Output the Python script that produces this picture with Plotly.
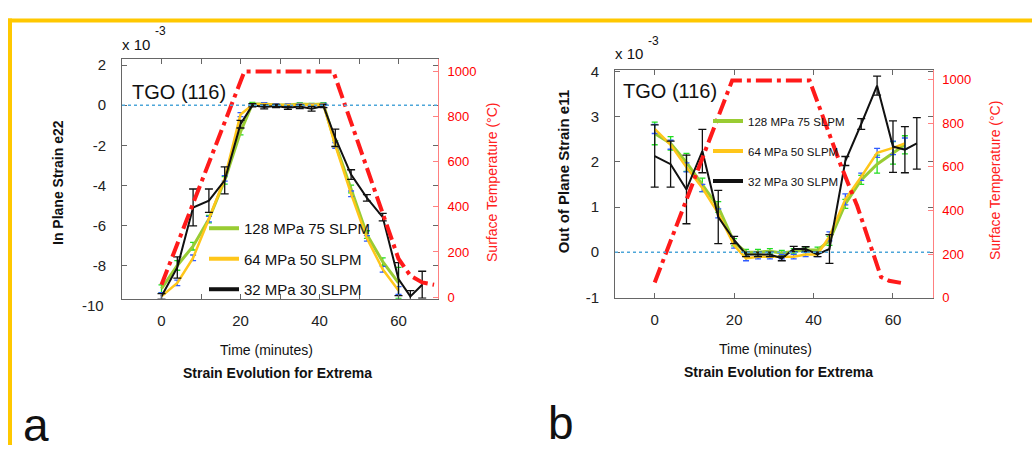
import plotly.graph_objects as go

# ---------------- data ----------------
# Panel a: In-plane strain e22 (x 1e-3)
t_a_black = [0, 4, 8, 12, 16, 20, 23, 26, 29, 32, 35, 38, 41, 44, 48, 52, 56, 60, 63, 66]
e22_black = [-9.53, -8.09, -5.1, -4.76, -3.75, -0.95, -0.01, -0.09, -0.04, -0.13, -0.07, -0.18, -0.04,
             -1.63, -3.46, -4.62, -5.58, -8.67, -9.53, -8.95]
e22_black_err = [0.14, 0.53, 0.92, 0.58, 0.67, 0.19, 0.08, 0.1, 0.08, 0.08, 0.1, 0.12, 0.08,
                 0.43, 0.24, 0.16, 0.19, 0.82, 0.29, 0.67]

t_a_col = [0, 4, 8, 12, 16, 20, 23, 26, 29, 32, 35, 38, 41, 44, 48, 52, 56, 60]
e22_green = [-9.15, -7.99, -7.03, -5.68, -3.75, -1.34, 0.06, 0.06, 0.01, 0.01, 0.06, 0.03, 0.06,
             -1.92, -4.18, -6.45, -7.8, -8.86]
e22_green_err = [0.19, 0.24, 0.19, 0.19, 0.19, 0.14, 0.08, 0.06, 0.06, 0.06, 0.06, 0.06, 0.06,
                 0.14, 0.19, 0.19, 0.19, 0.77]
e22_yellow = [-9.53, -8.86, -7.61, -5.68, -3.65, -0.47, 0.01, 0.06, 0.01, 0.01, 0.03, 0.01, 0.03,
              -2.01, -4.42, -6.64, -8.18, -9.24]
e22_yellow_err = [0.19, 0.14, 0.14, 0.14, 0.14, 0.1, 0.06, 0.06, 0.06, 0.06, 0.06, 0.06, 0.06,
                  0.14, 0.14, 0.14, 0.14, 0.19]

t_temp_a = [0, 21, 43.5, 56, 60, 63, 66, 69]
temp_a = [55, 1000, 1000, 370, 170, 95, 65, 55]

# Panel b: Out-of-plane strain e11 (x 1e-3)
t_b_black = [0, 4, 8, 12, 16, 20, 23, 26, 29, 32, 35, 38, 41, 44, 48, 52, 56, 60, 63, 66]
e11_black = [2.13, 1.95, 1.39, 2.24, 0.78, 0.27, -0.05, -0.05, -0.05, -0.14, 0.07, 0.07, -0.05,
             0.07, 2.02, 2.84, 3.69, 2.34, 2.27, 2.41]
e11_black_err = [0.69, 0.51, 0.76, 0.48, 0.59, 0.08, 0.05, 0.05, 0.05, 0.05, 0.06, 0.05, 0.05,
                 0.32, 0.1, 0.12, 0.21, 0.57, 0.51, 0.57]

t_b_col = [0, 4, 8, 12, 16, 20, 23, 26, 29, 32, 35, 38, 41, 44, 48, 52, 56, 60, 63]
e11_green = [2.63, 2.41, 1.99, 1.49, 1.0, 0.22, 0.0, 0.0, 0.02, -0.02, 0.02, 0.05, 0.05,
             0.25, 1.07, 1.6, 1.95, 2.2, 2.38]
e11_green_err = [0.25, 0.15, 0.2, 0.15, 0.12, 0.08, 0.06, 0.06, 0.06, 0.06, 0.06, 0.06, 0.06,
                 0.1, 0.1, 0.1, 0.2, 0.25, 0.2]
e11_yellow = [2.73, 2.38, 1.88, 1.42, 0.86, 0.15, -0.14, -0.1, -0.1, -0.1, -0.1, -0.05, -0.05,
              0.35, 1.17, 1.67, 2.2, 2.31, 2.41]
e11_yellow_err = [0.1, 0.1, 0.1, 0.08, 0.1, 0.06, 0.05, 0.05, 0.05, 0.05, 0.05, 0.05, 0.05,
                  0.1, 0.12, 0.08, 0.1, 0.15, 0.12]

t_temp_b = [0, 19.5, 39, 47, 51, 55, 57, 59, 62]
temp_b = [70, 995, 995, 600, 420, 210, 95, 78, 68]

series_names = ["128 MPa 75 SLPM", "64 MPa 50 SLPM", "32 MPa 30 SLPM"]
x_ticks_a = [0, 20, 40, 60]
x_minor_a = [10, 30, 50]
x_ticks_b = [0, 20, 40, 60]
y_ticks_a = [-8, -6, -4, -2, 0, 2]
y_extra_label_a = "-10"
y_ticks_b = [-1, 0, 1, 2, 3, 4]
temp_ticks = [0, 200, 400, 600, 800, 1000]

# ---------------- style ----------------
FONT = "Liberation Sans, Arial, sans-serif"
GREEN = "#99CC33"
YELLOW = "#FFC61A"
BLACK = "#111111"
RED = "#FF1A1A"
ERR_GREEN = "#22DD22"
ERR_BLUE = "#2E5BFF"
AXIS_GRAY = "#666666"
RED_AXIS = "#FF8080"
W, H = 1032, 453


def px_x(p):
    return p / W


def px_y(p):
    return 1 - p / H


fig = go.Figure()


def add_panel(xa, ya, yt, t_col, g, g_err, yel, yel_err, t_blk, blk, blk_err, t_tmp, tmp, legend):
    specs = [
        (t_col, g, g_err, GREEN, 3, ERR_GREEN, 3, series_names[0], "g"),
        (t_col, yel, yel_err, YELLOW, 2.5, ERR_BLUE, 3, series_names[1], "y"),
        (t_blk, blk, blk_err, BLACK, 2, BLACK, 4, series_names[2], "b"),
    ]
    for tt, vals, errs, col, lw, ecol, capw, name, key in specs:
        fig.add_trace(go.Scatter(x=tt, y=vals, mode="lines", name=name, showlegend=False,
                                 line=dict(color=col, width=lw),
                                 error_y=dict(type="data", array=errs, color=ecol,
                                              thickness=1.3, width=capw),
                                 xaxis=xa, yaxis=ya, legendgroup=legend + key))
    # legend entries (thicker sample lines, as in the original legend)
    for col, name, key in [(GREEN, series_names[0], "g"), (YELLOW, series_names[1], "y"),
                           (BLACK, series_names[2], "b")]:
        fig.add_trace(go.Scatter(x=[None], y=[None], mode="lines", name=name,
                                 line=dict(color=col, width=4), xaxis=xa, yaxis=ya,
                                 legend=legend, legendgroup=legend + key, showlegend=True))
    fig.add_trace(go.Scatter(x=t_tmp, y=tmp, mode="lines", showlegend=False,
                             line=dict(color=RED, width=4, dash="16px,5px,4px,5px"),
                             xaxis=xa, yaxis=yt))


add_panel("x", "y", "y2", t_a_col, e22_green, e22_green_err, e22_yellow, e22_yellow_err,
          t_a_black, e22_black, e22_black_err, t_temp_a, temp_a, "legend")
add_panel("x2", "y3", "y4", t_b_col, e11_green, e11_green_err, e11_yellow, e11_yellow_err,
          t_b_black, e11_black, e11_black_err, t_temp_b, temp_b, "legend2")

tickfont = dict(family=FONT, size=15, color="#222222")
redfont = dict(family=FONT, size=13, color="#FF0000")

common_x = dict(showgrid=False, zeroline=False, showline=True, linecolor=AXIS_GRAY, linewidth=1,
                mirror="ticks", ticks="inside", ticklen=5, tickcolor=AXIS_GRAY,
                tickfont=tickfont, ticklabelstandoff=8)
common_y = dict(showgrid=False, zeroline=False, showline=True, linecolor=AXIS_GRAY, linewidth=1,
                mirror="ticks", ticks="inside", ticklen=5, tickcolor=AXIS_GRAY,
                tickfont=tickfont, ticklabelstandoff=12)
common_t = dict(showgrid=False, zeroline=False, showline=True, linecolor=RED_AXIS, linewidth=1,
                ticks="inside", ticklen=5, tickcolor=RED_AXIS, side="right",
                tickfont=redfont, ticklabelstandoff=6, tickvals=temp_ticks)

dom_xa = [px_x(122), px_x(438)]
dom_ya = [px_y(301.7), px_y(53.3)]
dom_xb = [px_x(615), px_x(932.7)]
dom_yb = [px_y(300.7), px_y(65)]

fig.update_layout(
    width=W, height=H, autosize=False,
    margin=dict(l=0, r=0, t=0, b=0),
    paper_bgcolor="white", plot_bgcolor="white",
    font=dict(family=FONT, color="#111111"),
    xaxis=dict(common_x, domain=dom_xa, range=[-10, 70], tickvals=x_ticks_a,
               ticktext=[str(v) for v in x_ticks_a], anchor="y",
               minor=dict(tickvals=x_minor_a, ticks="inside", ticklen=5, tickcolor=AXIS_GRAY)),
    yaxis=dict(common_y, domain=dom_ya, range=[-9.648, 2.323], tickvals=y_ticks_a,
               ticktext=[str(v) for v in y_ticks_a], anchor="x"),
    yaxis2=dict(common_t, range=[-7, 1057], overlaying="y", anchor="x"),
    xaxis2=dict(common_x, domain=dom_xb, range=[-10, 70], tickvals=x_ticks_b,
                ticktext=[str(v) for v in x_ticks_b], anchor="y3"),
    yaxis3=dict(common_y, domain=dom_yb, range=[-1.01, 4.04], tickvals=y_ticks_b,
                ticktext=[str(v) for v in y_ticks_b], anchor="x2"),
    yaxis4=dict(common_t, range=[0, 1044], overlaying="y3", anchor="x2"),
    legend=dict(x=px_x(204), y=px_y(212), xanchor="left", yanchor="top",
                bgcolor="rgba(0,0,0,0)", borderwidth=0, tracegroupgap=8,
                font=dict(family=FONT, size=15, color="#111111")),
    legend2=dict(x=px_x(708), y=px_y(103), xanchor="left", yanchor="top",
                 bgcolor="rgba(0,0,0,0)", borderwidth=0, tracegroupgap=11,
                 font=dict(family=FONT, size=11.5, color="#111111")),
    showlegend=True,
)

# zero reference lines and yellow frame
shapes = [
    dict(type="line", xref="x domain", yref="y", x0=0, x1=1, y0=0, y1=0,
         line=dict(color="#4DA6D9", width=1.5, dash="dot")),
    dict(type="line", xref="x2 domain", yref="y3", x0=0, x1=1, y0=0, y1=0,
         line=dict(color="#4DA6D9", width=1.5, dash="dot")),
    dict(type="rect", xref="paper", yref="paper", x0=px_x(8), x1=1, y0=px_y(16), y1=px_y(12),
         fillcolor="#FFC800", line=dict(width=0), layer="above"),
    dict(type="rect", xref="paper", yref="paper", x0=px_x(8), x1=px_x(12), y0=0, y1=px_y(12),
         fillcolor="#FFC800", line=dict(width=0), layer="above"),
]
fig.update_layout(shapes=shapes)

ann = []


def text(x, y, s, size, color="#111111", bold=False, angle=0, xanchor="center", yanchor="middle"):
    if bold:
        s = "<b>" + s + "</b>"
    ann.append(dict(x=px_x(x), y=px_y(y), xref="paper", yref="paper", text=s, showarrow=False,
                    font=dict(family=FONT, size=size, color=color), textangle=angle,
                    xanchor=xanchor, yanchor=yanchor))


# panel a
text(120, 39, "x 10", 15, xanchor="left")
text(153, 25, "-3", 12, xanchor="left")
text(106, 309, y_extra_label_a, 15, color="#222222", xanchor="right")
text(179, 88, "TGO (116)", 20)
text(58, 182, "In Plane Strain e22", 14, bold=True, angle=-90)
text(492, 182, "Surface Temperature (°C)", 14, color="#FF2020", angle=-90)
text(266, 355, "Time (minutes)", 14)
text(277, 379, "Strain Evolution for Extrema", 14, bold=True)
text(21, 432, "a", 46, xanchor="left")
# panel b
text(613, 48, "x 10", 15, xanchor="left")
text(646, 35, "-3", 12, xanchor="left")
text(670, 87, "TGO (116)", 20)
text(563, 171, "Out of Plane Strain e11", 15, bold=True, angle=-90)
text(995, 180, "Surface Temperature (°C)", 14, color="#FF2020", angle=-90)
text(765, 354, "Time (minutes)", 14)
text(778, 377, "Strain Evolution for Extrema", 14, bold=True)
text(546, 430, "b", 46, xanchor="left")

fig.update_layout(annotations=ann)

fig.write_html("out.html")
